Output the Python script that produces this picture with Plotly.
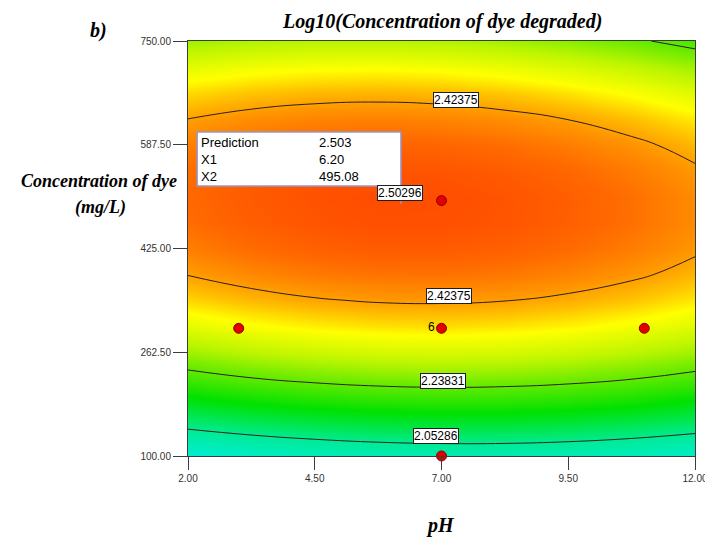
import plotly.graph_objects as go

# Response surface: Log10(concentration of dye degraded) over pH and initial dye concentration
ph_grid = [2.0, 3.25, 4.5, 5.75, 7.0, 8.25, 9.5, 10.75, 12.0]
conc_grid = [100.0, 140.625, 181.25, 221.875, 262.5, 303.125, 343.75, 384.375, 425.0,
             465.625, 506.25, 546.875, 587.5, 628.125, 668.75, 709.375, 750.0]
log_degraded = [
    [1.9506, 1.9731, 1.9897, 2.0011, 2.0065, 2.0063, 2.0003, 1.9887, 1.9714],
    [2.0498, 2.0717, 2.0876, 2.0983, 2.1031, 2.1022, 2.0956, 2.0834, 2.0654],
    [2.1385, 2.1597, 2.1751, 2.1851, 2.1892, 2.1877, 2.1805, 2.1675, 2.1489],
    [2.2168, 2.2374, 2.2520, 2.2614, 2.2649, 2.2627, 2.2548, 2.2413, 2.2220],
    [2.2846, 2.3045, 2.3185, 2.3273, 2.3301, 2.3273, 2.3187, 2.3045, 2.2846],
    [2.3419, 2.3612, 2.3746, 2.3826, 2.3848, 2.3813, 2.3722, 2.3573, 2.3367],
    [2.3888, 2.4074, 2.4201, 2.4275, 2.4291, 2.4249, 2.4151, 2.3996, 2.3784],
    [2.4252, 2.4431, 2.4552, 2.4620, 2.4629, 2.4581, 2.4476, 2.4314, 2.4096],
    [2.4511, 2.4684, 2.4798, 2.4860, 2.4862, 2.4808, 2.4696, 2.4528, 2.4303],
    [2.4666, 2.4832, 2.4940, 2.4995, 2.4991, 2.4930, 2.4812, 2.4637, 2.4406],
    [2.4715, 2.4875, 2.4977, 2.5025, 2.5014, 2.4947, 2.4823, 2.4641, 2.4403],
    [2.4661, 2.4814, 2.4909, 2.4951, 2.4934, 2.4860, 2.4729, 2.4541, 2.4297],
    [2.4501, 2.4648, 2.4736, 2.4772, 2.4748, 2.4668, 2.4530, 2.4336, 2.4085],
    [2.4237, 2.4377, 2.4459, 2.4488, 2.4458, 2.4371, 2.4227, 2.4026, 2.3769],
    [2.3868, 2.4002, 2.4077, 2.4100, 2.4063, 2.3970, 2.3819, 2.3612, 2.3348],
    [2.3394, 2.3522, 2.3591, 2.3606, 2.3563, 2.3463, 2.3307, 2.3093, 2.2822],
    [2.2816, 2.2937, 2.2999, 2.3009, 2.2959, 2.2853, 2.2689, 2.2469, 2.2192],
]

# Contour levels drawn on the surface
level_start = 2.05286
level_step = 0.185445
level_end = 2.42375

# Contour label placements (pH, concentration, text)
label_ph = [7.28, 7.14, 7.02, 6.90]
label_conc = [657.0, 350.0, 218.0, 131.0]
label_text = ["2.42375", "2.42375", "2.23831", "2.05286"]
opt_label_ph = 6.19
opt_label_conc = 512.0
opt_label_text = "2.50296"

# Design points
design_ph = [3.0, 7.0, 11.0, 7.0, 7.0]
design_conc = [300.0, 300.0, 300.0, 100.0, 500.0]
center_reps = "6"

# Optimum prediction flag
pred_ph = 6.20
pred_conc = 495.08
pred_value = 2.503

x_ticks = [2.00, 4.50, 7.00, 9.50, 12.00]
y_ticks = [100.00, 262.50, 425.00, 587.50, 750.00]

colorscale = [
    [0.000, "rgb(0,238,220)"],
    [0.193, "rgb(0,235,150)"],
    [0.386, "rgb(0,225,0)"],
    [0.544, "rgb(110,235,0)"],
    [0.632, "rgb(185,245,0)"],
    [0.746, "rgb(255,255,0)"],
    [0.807, "rgb(255,195,0)"],
    [0.860, "rgb(255,150,0)"],
    [0.930, "rgb(255,105,0)"],
    [1.000, "rgb(255,70,0)"],
]

serif = "Liberation Serif, Times New Roman, serif"
sans = "Liberation Sans, Arial, sans-serif"

fig = go.Figure()

fig.add_trace(go.Contour(
    x=ph_grid, y=conc_grid, z=log_degraded,
    zmin=1.94, zmax=2.51,
    colorscale=colorscale,
    showscale=False,
    contours=dict(coloring="heatmap", start=level_start, end=level_end,
                  size=level_step, showlabels=False),
    line=dict(color="rgb(45,30,30)", width=1, smoothing=1.3),
    hoverinfo="skip",
))

fig.add_trace(go.Scatter(
    x=design_ph, y=design_conc, mode="markers",
    marker=dict(size=10, color="rgb(225,0,0)",
                line=dict(color="rgb(140,0,0)", width=1)),
    cliponaxis=False, hoverinfo="skip",
))

annotations = []
# contour labels
for px_, cy_, t in zip(label_ph, label_conc, label_text):
    annotations.append(dict(
        x=px_, y=cy_, xref="x", yref="y", text=t, showarrow=False,
        font=dict(family=sans, size=12, color="black"),
        bgcolor="white", bordercolor="rgb(30,30,30)", borderwidth=1, borderpad=0,
    ))

# replicate count at the centre point
annotations.append(dict(
    x=design_ph[1], y=design_conc[1], xref="x", yref="y", text=center_reps,
    showarrow=False, xanchor="right", yanchor="middle", xshift=-5, yshift=1,
    font=dict(family=sans, size=12, color="black"),
))

# prediction flag text
annotations.append(dict(
    x=2.22, y=606.0, xref="x", yref="y", xanchor="left", yanchor="top",
    text="Prediction<br>X1<br>X2", showarrow=False, align="left",
    font=dict(family=sans, size=13, color="black"),
))
annotations.append(dict(
    x=4.55, y=606.0, xref="x", yref="y", xanchor="left", yanchor="top",
    text=f"{pred_value:.3f}<br>{pred_ph:.2f}<br>{pred_conc:.2f}",
    showarrow=False, align="left",
    font=dict(family=sans, size=13, color="black"),
))
annotations.append(dict(
    x=opt_label_ph, y=opt_label_conc, xref="x", yref="y", text=opt_label_text,
    showarrow=False, font=dict(family=sans, size=12, color="black"),
    bgcolor="white", bordercolor="rgb(30,30,30)", borderwidth=1, borderpad=0,
))

# titles
def title_note(text, x, y, size):
    return dict(x=x, y=y, xref="paper", yref="paper", xanchor="center", yanchor="middle",
                text=f"<b><i>{text}</i></b>", showarrow=False,
                font=dict(family=serif, size=size, color="black"))

annotations += [
    title_note("Log10(Concentration of dye degraded)", 0.501, 1.0458, 20),
    title_note("b)", -0.1765, 1.0241, 20),
    title_note("Concentration of dye", -0.1755, 0.6627, 18),
    title_note("(mg/L)", -0.1735, 0.5976, 18),
    title_note("pH", 0.499, -0.1663, 20),
]

shapes = [
    dict(type="rect", xref="x", yref="y", x0=2.18, x1=pred_ph, y0=523.0, y1=607.5,
         fillcolor="white", line=dict(color="rgb(150,150,205)", width=1.5), layer="above"),
    dict(type="line", xref="x", yref="y", x0=pred_ph, x1=pred_ph, y0=pred_conc, y1=523.0,
         line=dict(color="rgb(150,150,205)", width=1.5), layer="above"),
]

fig.update_layout(
    width=705, height=539,
    margin=dict(l=188, r=10, t=41, b=83, autoexpand=False),
    paper_bgcolor="white", plot_bgcolor="white",
    showlegend=False,
    annotations=annotations,
    shapes=shapes,
    font=dict(family=sans, size=10, color="rgb(50,50,50)"),
)

axis_style = dict(
    ticks="outside", tickcolor="rgb(60,60,60)",
    showline=True, linecolor="rgb(60,60,60)", linewidth=1, mirror=True,
    showgrid=False, zeroline=False, ticklabeloverflow="allow", automargin=False,
    tickfont=dict(family=sans, size=10, color="rgb(50,50,50)"),
)
fig.update_xaxes(range=[2, 12], tickvals=x_ticks, ticktext=[f"{v:.2f}" for v in x_ticks],
                 ticklen=13, **axis_style)
fig.update_yaxes(range=[100, 750], tickvals=y_ticks, ticktext=[f"{v:.2f}" for v in y_ticks],
                 ticklen=14, **axis_style)

fig.write_html("out.html")
